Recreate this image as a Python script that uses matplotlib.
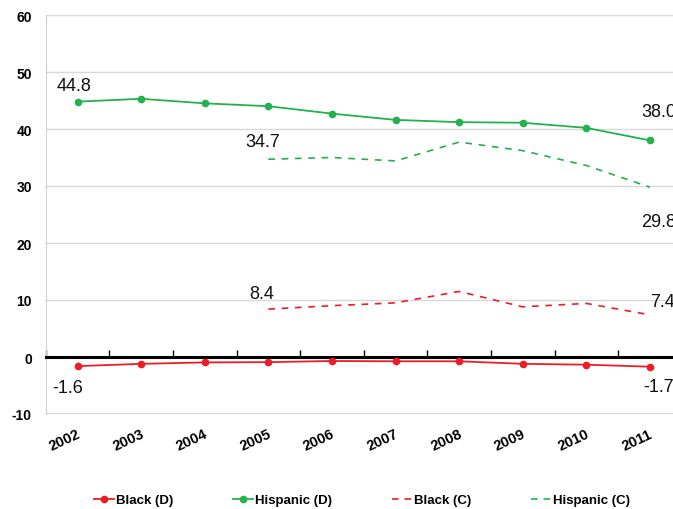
import matplotlib
matplotlib.use("Agg")
import matplotlib.pyplot as plt
from matplotlib.lines import Line2D
from matplotlib.transforms import ScaledTranslation

plt.rcParams['font.family'] = ['Liberation Sans', 'DejaVu Sans']
plt.rcParams['axes.unicode_minus'] = False

# data
years = ['2002', '2003', '2004', '2005', '2006', '2007', '2008', '2009', '2010', '2011']
black_d = [-1.6, -1.2, -0.95, -0.9, -0.7, -0.75, -0.75, -1.2, -1.35, -1.7]
hispanic_d = [44.8, 45.3, 44.5, 44.0, 42.7, 41.6, 41.2, 41.1, 40.2, 38.0]
c_years = ['2005', '2006', '2007', '2008', '2009', '2010', '2011']
black_c = [8.4, 9.0, 9.5, 11.5, 8.8, 9.4, 7.4]
hispanic_c = [34.7, 35.0, 34.4, 37.7, 36.2, 33.6, 29.8]

red = '#ee1c25'
green = '#22b14c'

x = list(range(len(years)))
xc = [years.index(y) for y in c_years]

fig = plt.figure(figsize=(6.73, 5.10), dpi=100)
ax = fig.add_axes([45.7 / 673, 1 - 415 / 510, 636 / 673, 399 / 510])

ax.plot(x, black_d, color=red, lw=1.3, marker='o', ms=4.5, label='Black (D)', zorder=4)
ax.plot(x, hispanic_d, color=green, lw=1.3, marker='o', ms=4.5, label='Hispanic (D)', zorder=4)
ax.plot(xc, black_c, color=red, lw=1.2, ls=(0, (4, 4)), label='Black (C)', zorder=4)
ax.plot(xc, hispanic_c, color=green, lw=1.2, ls=(0, (4, 4)), label='Hispanic (C)', zorder=4)

# end labels (the right-hand ones run off the edge, as in the original)
def lab(xv, yv, txt, dx, dy):
    ax.annotate(txt, (xv, yv), xytext=(dx, dy), textcoords='offset pixels',
                ha='center', va='center', fontsize=13, color='#111111',
                annotation_clip=False)

lab(x[0], hispanic_d[0], '44.8', -3, 16)
lab(x[-1], hispanic_d[-1], '38.0', 9, 29)
lab(xc[0], hispanic_c[0], '34.7', -6, 18)
lab(xc[-1], hispanic_c[-1], '29.8', 9, -34)
lab(xc[0], black_c[0], '8.4', -7, 16)
lab(xc[-1], black_c[-1], '7.4', 13, 13)
lab(x[0], black_d[0], '-1.6', -10, -21)
lab(x[-1], black_d[-1], '-1.7', 9, -20)

ax.set_xlim(-0.5, len(years) - 0.5)
ax.set_ylim(-10, 60)
ax.set_yticks(range(-10, 61, 10))
ax.grid(axis='y', color='#d9d9d9', lw=1)
ax.set_axisbelow(True)

for s in ['top', 'right']:
    ax.spines[s].set_visible(False)
ax.spines['left'].set_color('#d0d0d0')
ax.spines['bottom'].set_position(('data', 0))
ax.spines['bottom'].set_color('black')
ax.spines['bottom'].set_linewidth(2.2)
ax.spines['bottom'].set_zorder(3)

# category boundary ticks on the zero line, year labels at the bottom
ax.set_xticks([i + 0.5 for i in range(-1, len(years))])
ax.tick_params(axis='x', direction='in', length=5, width=1, color='black', labelbottom=False)
ax.tick_params(axis='y', length=0, pad=10)
for t in ax.get_yticklabels():
    t.set_fontweight('bold')
    t.set_fontsize(10)

sec = ax.secondary_xaxis('bottom')
sec.spines['bottom'].set_visible(False)
sec.set_xticks(x)
sec.set_xticklabels(years, rotation=25, fontweight='bold', fontsize=10.5,
                    ha='right', va='top', rotation_mode='anchor')
sec.tick_params(length=0, pad=9)
shift = ScaledTranslation(-1 / 100, 0, fig.dpi_scale_trans)
for t in sec.get_xticklabels():
    t.set_transform(t.get_transform() + shift)
ax.axhline(-10, color='#d0d0d0', lw=1.2)

handles = [
    Line2D([], [], color=red, lw=1.3, marker='o', ms=4.5),
    Line2D([], [], color=green, lw=1.3, marker='o', ms=4.5),
    Line2D([], [], color=red, lw=1.2, ls=(0, (4, 3.5))),
    Line2D([], [], color=green, lw=1.2, ls=(0, (4, 3.5))),
]
fig.legend(handles, ['Black (D)', 'Hispanic (D)', 'Black (C)', 'Hispanic (C)'],
           loc='center', bbox_to_anchor=(0.538, 1 - 501 / 510), ncol=4, frameon=False,
           prop={'weight': 'bold', 'size': 9.5}, handlelength=1.5, handletextpad=0.2,
           columnspacing=4.5)

fig.savefig('out.png', dpi=100)
